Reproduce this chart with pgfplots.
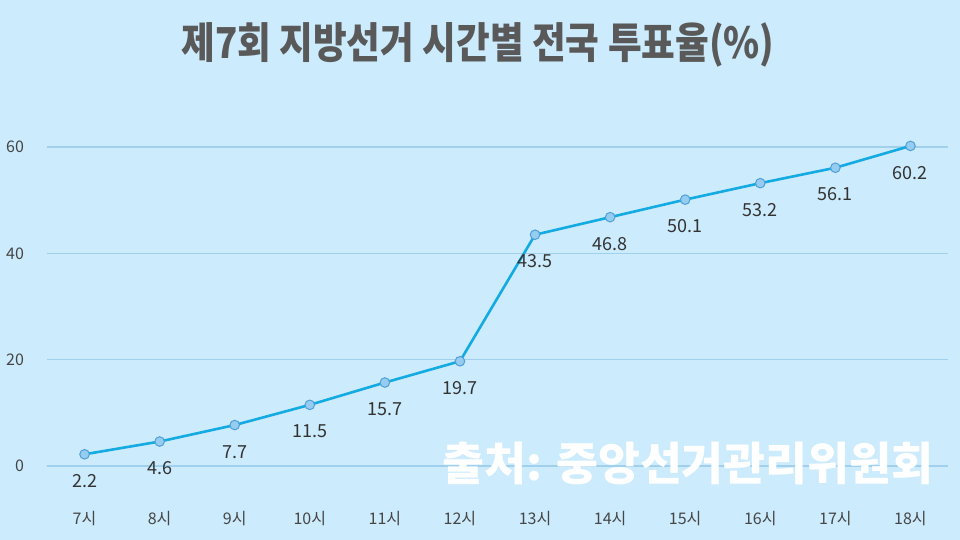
\documentclass[border=0pt]{standalone}
\usepackage{pgfplots}
\pgfplotsset{compat=1.18}
\usepackage{fontspec}
\setmainfont{Noto Sans CJK KR}
\newfontfamily\titlefont{Noto Sans CJK KR}[FakeStretch=0.86]
\definecolor{bg}{RGB}{204,235,252}
\definecolor{gridc}{RGB}{160,208,236}
\definecolor{linec}{RGB}{20,170,226}
\definecolor{markf}{RGB}{150,204,240}
\definecolor{markd}{RGB}{80,160,215}
\definecolor{titlec}{RGB}{89,89,89}
\definecolor{tickc}{RGB}{70,70,70}
\definecolor{labc}{RGB}{51,51,51}
\begin{document}
\begin{tikzpicture}
\fill[bg] (0,0) rectangle (480pt,270pt);
\useasboundingbox (0,0) rectangle (480pt,270pt);
\begin{axis}[
  at={(23.5pt,37pt)}, anchor=south west,
  scale only axis, width=450.5pt, height=159.5pt,
  xmin=-0.5, xmax=11.5, ymin=0, ymax=60,
  axis line style={draw=none},
  xtick={0,...,11},
  xticklabels={7시,8시,9시,10시,11시,12시,13시,14시,15시,16시,17시,18시},
  ytick={0,20,40,60},
  major tick length=0pt,
  ymajorgrids, grid style={gridc, line width=0.6pt},
  tick label style={font=\fontsize{8}{9.5}\selectfont, text=tickc},
  /pgf/number format/assume math mode=true,
  xticklabel style={yshift=-19pt},
  yticklabel style={xshift=-8pt},
  clip=false,
  nodes near coords,
  every node near coord/.append style={font=\fontsize{9}{11}\selectfont, text=labc, anchor=north, yshift=-6.5pt},
  /pgf/number format/.cd, fixed, precision=1,
]
\addplot[linec, line width=1.3pt, mark=*, mark size=2.4pt,
  mark options={fill=markf, draw=markd, line width=0.5pt}]
  coordinates {(0,2.2) (1,4.6) (2,7.7) (3,11.5) (4,15.7) (5,19.7) (6,43.5) (7,46.8) (8,50.1) (9,53.2) (10,56.1) (11,60.2)};
\end{axis}
\node[font=\titlefont\bfseries\fontsize{21.3}{23}\selectfont, text=titlec] at (239pt,247.5pt) {제7회 지방선거 시간별 전국 투표율(\%)};
\node[font=\bfseries\fontsize{22.8}{24}\selectfont, text=white] at (344pt,38.5pt) {출처: 중앙선거관리위원회};
\end{tikzpicture}
\end{document}
